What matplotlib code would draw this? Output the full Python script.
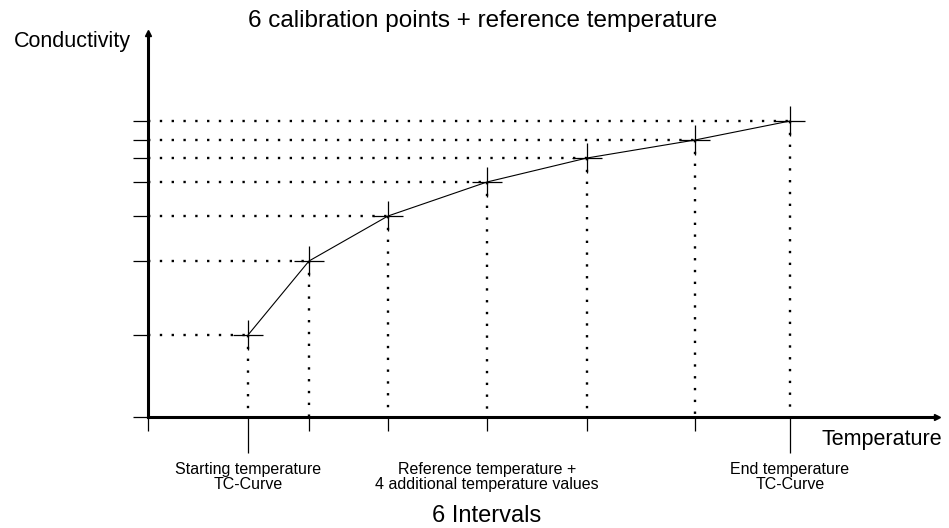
import matplotlib.pyplot as plt
import numpy as np

plt.rcParams['font.family'] = ['Liberation Sans', 'DejaVu Sans']

# calibration points (arbitrary units)
temps = [100, 161, 240, 339, 439, 547, 642]
cond = [82, 156, 201, 235, 259, 277, 296]

title = '6 calibration points + reference temperature'
bottom_labels = ['Starting temperature\nTC-Curve',
                 'Reference temperature +\n4 additional temperature values',
                 'End temperature\nTC-Curve']
label_pos = [temps[0], temps[3], temps[-1]]

fig = plt.figure(figsize=(9.49, 5.28), dpi=100)
ax = fig.add_axes([148 / 949, 111 / 528, 789 / 949, 384 / 528])
ax.set_xlim(0, 789)
ax.set_ylim(0, 384)

for s in ['top', 'right']:
    ax.spines[s].set_visible(False)
for s in ['left', 'bottom']:
    ax.spines[s].set_linewidth(2.2)
    ax.spines[s].set_zorder(1)

# arrow heads
ax.plot(1, 0, '>k', markersize=5, transform=ax.get_yaxis_transform(), clip_on=False)
ax.plot(0, 1, '^k', markersize=5, transform=ax.get_xaxis_transform(), clip_on=False)

# ticks
ax.set_xticks([0] + temps[1:-1])
ax.set_xticks([temps[0], temps[-1]], minor=True)
ax.set_yticks([0] + cond)
ax.tick_params(axis='x', which='major', direction='out', length=10, width=0.9, labelbottom=False)
ax.tick_params(axis='x', which='minor', direction='out', length=26, width=0.9, labelbottom=False)
ax.tick_params(axis='y', direction='out', length=11, width=0.9, labelleft=False)

# dotted guides
for t, c in zip(temps, cond):
    ax.plot([0, t], [c, c], color='black', lw=1.7, linestyle=(0, (1, 4.0)),
            dash_capstyle='butt')
    ax.plot([t, t], [c, 0], color='black', lw=1.7, linestyle=(0, (1, 4.0)),
            dash_capstyle='butt')

# curve and calibration crosses
ax.plot(temps, cond, color='black', lw=0.8)
ax.plot(temps, cond, '+', color='black', markersize=21, markeredgewidth=0.9)

# texts
fig.text(483 / 949, 1 - 21 / 528, title, ha='center', va='center', fontsize=17.5)
ax.text(-17, 376, 'Conductivity', ha='right', va='center', fontsize=15.5, clip_on=False)
ax.text(794, -23, 'Temperature', ha='right', va='center', fontsize=15.5, clip_on=False)
for x, lab in zip(label_pos, bottom_labels):
    ax.text(x, -60, lab, ha='center', va='center', fontsize=11.5,
            linespacing=1.0, clip_on=False)
ax.text(temps[3], -99, '6 Intervals', ha='center', va='center', fontsize=17, clip_on=False)

fig.savefig('out.png', dpi=100)
